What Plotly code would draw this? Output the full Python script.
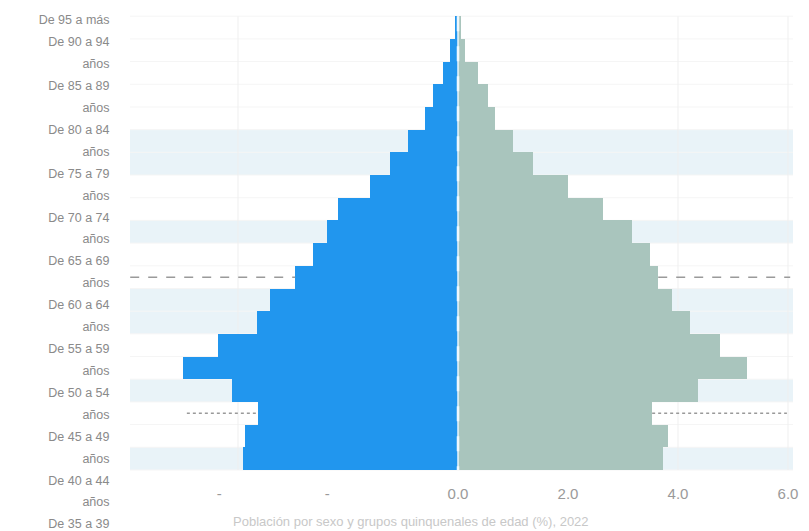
import plotly.graph_objects as go

# ---- data (top row = oldest group) ----
age_groups = [
    "De 95 a más", "De 90 a 94 años", "De 85 a 89 años", "De 80 a 84 años",
    "De 75 a 79 años", "De 70 a 74 años", "De 65 a 69 años", "De 60 a 64 años",
    "De 55 a 59 años", "De 50 a 54 años", "De 45 a 49 años", "De 40 a 44 años",
    "De 35 a 39 años", "De 30 a 34 años", "De 25 a 29 años", "De 20 a 24 años",
    "De 15 a 19 años", "De 10 a 14 años", "De 5 a 9 años", "De 0 a 4 años",
]
hombres = [0.05, 0.15, 0.27, 0.45, 0.60, 0.91, 1.24, 1.60, 2.18, 2.38,
           2.64, 2.96, 3.42, 3.65, 4.36, 5.00, 4.11, 3.64, 3.87, 3.91]
mujeres = [0.05, 0.13, 0.36, 0.55, 0.67, 1.00, 1.36, 2.00, 2.64, 3.16,
           3.49, 3.64, 3.89, 4.22, 4.76, 5.25, 4.36, 3.53, 3.82, 3.73]

# dashed reference segments
ref_groups = ["De 40 a 44 años", "De 40 a 44 años", "De 10 a 14 años", "De 10 a 14 años"]
ref_x0 = [-5.96, 3.64, -4.93, 3.53]
ref_x1 = [-2.96, 6.04, -3.64, 5.98]
ref_dash = ["dash", "dash", "dot", "dot"]

band_groups = ["De 70 a 74 años", "De 65 a 69 años", "De 50 a 54 años",
               "De 35 a 39 años", "De 30 a 34 años", "De 15 a 19 años", "De 0 a 4 años"]

x_tickvals = [-4, -2, 0, 2, 4, 6]
x_ticktext = ["-" + "\u00a0" * 9, "-" + "\u00a0" * 10, "0.0", "2.0", "4.0", "6.0"]
x_guides = [-4, 4, 6]

axis_title = "Población por sexo y grupos quinquenales de edad (%), 2022"

# label lines for the left axis (each group wraps to two lines)
label_lines = []
for g in age_groups:
    if g.endswith(" años"):
        label_lines += [g[:-5], "años"]
    else:
        label_lines.append(g)

BLUE = "#2196ee"
GREY = "#a9c5bd"
FONT = "Liberation Sans, Arial, sans-serif"

W, H = 801, 523
n = len(age_groups)

fig = go.Figure()
fig.add_trace(go.Bar(y=age_groups, x=[-v for v in hombres], orientation="h",
                     marker=dict(color=BLUE, line=dict(width=0)), name="Hombres"))
fig.add_trace(go.Bar(y=age_groups, x=mujeres, orientation="h",
                     marker=dict(color=GREY, line=dict(width=0)), name="Mujeres"))

for g, a, b, d in zip(ref_groups, ref_x0, ref_x1, ref_dash):
    fig.add_trace(go.Scatter(x=[a, b], y=[g, g], mode="lines",
                             line=dict(color="#9a9a9a", width=1.5, dash=d),
                             showlegend=False, hoverinfo="skip"))

# invisible trace carrying the label axis
fig.add_trace(go.Scatter(x=[0], y=[0], yaxis="y2", mode="markers",
                         marker=dict(opacity=0), showlegend=False, hoverinfo="skip"))

# shaded bands
for g in band_groups:
    i = age_groups.index(g)
    fig.add_shape(type="rect", xref="paper", x0=0, x1=1, yref="y",
                  y0=i - 0.5, y1=i + 0.5, fillcolor="#e9f3f8",
                  line=dict(width=0), layer="below")

# faint row separators
for i in range(n + 1):
    fig.add_shape(type="line", xref="paper", x0=0, x1=1, yref="y",
                  y0=i - 0.5, y1=i - 0.5,
                  line=dict(color="#f5f5f5", width=1), layer="below")

# faint vertical guides
for gx in x_guides:
    fig.add_shape(type="line", xref="x", x0=gx, x1=gx, yref="y",
                  y0=-0.5, y1=n - 0.5,
                  line=dict(color="#efefef", width=1), layer="below")

# divider at zero
fig.add_shape(type="line", xref="x", x0=0, x1=0, yref="y",
              y0=-0.5, y1=n - 0.5,
              line=dict(color="white", width=2.5, dash="longdash"), layer="above")
fig.add_shape(type="line", xref="x", x0=0, x1=0, yref="y",
              y0=-0.5, y1=n - 0.5,
              line=dict(color="#eaf6fd", width=1.5), layer="above")

y0_px, step_px = 12, 22.0
T = y0_px / step_px
R = H / step_px - T

fig.update_layout(
    width=W, height=H,
    margin=dict(l=122, r=16, t=0, b=0),
    paper_bgcolor="white", plot_bgcolor="rgba(0,0,0,0)",
    barmode="overlay", bargap=0,
    showlegend=False,
    font=dict(family=FONT, color="#8c8c8c"),
    xaxis=dict(range=[-328 / 55, 335 / 55], tickvals=x_tickvals, ticktext=x_ticktext,
               showgrid=False, zeroline=False,
               ticks="outside", ticklen=9, tickcolor="rgba(0,0,0,0)",
               tickfont=dict(size=15, color="#9a9a9a"), showline=False,
               anchor="y"),
    yaxis=dict(domain=[1 - 465 / H, 1 - 7 / H], categoryorder="array",
               categoryarray=age_groups, autorange="reversed",
               showticklabels=False, showgrid=False, zeroline=False),
    yaxis2=dict(domain=[0, 1], anchor="free", position=0, side="left",
                range=[R, -T], tickmode="array",
                tickvals=list(range(len(label_lines))), ticktext=label_lines,
                ticklabeloverflow="allow",
                showgrid=False, zeroline=False, showline=False,
                ticks="outside", ticklen=18, tickcolor="rgba(0,0,0,0)",
                tickfont=dict(size=12.5, color="#8a8a8a")),
    annotations=[dict(text=axis_title, xref="paper", yref="paper",
                      x=(403 - 122) / 663, y=1 - 515 / H, yanchor="middle",
                      showarrow=False,
                      font=dict(size=13, color="#c8c8c8"))],
)

fig.write_html("out.html")
